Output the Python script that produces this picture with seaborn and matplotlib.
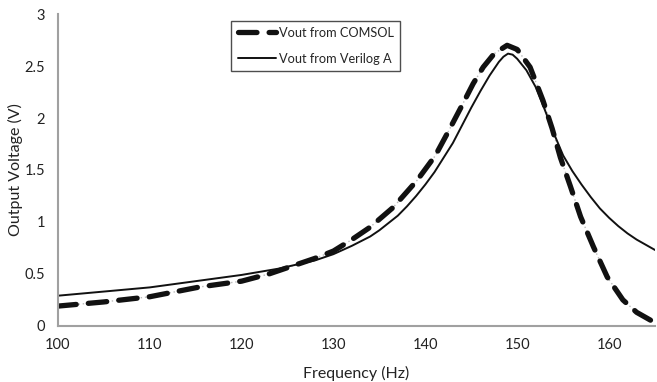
import numpy as np
import pandas as pd
import matplotlib
matplotlib.use("Agg")
import matplotlib.pyplot as plt
import seaborn as sns

# Data
freq_comsol = [100, 105, 110, 115.5, 120, 123, 126, 128, 130, 132, 134, 136.5, 139.1, 141.1, 142.5, 144.1,
               145.2, 146.3, 147.5, 148.9, 150, 151.4, 152.8, 153.8, 154.7, 155.8, 156.9, 158.3,
               159.8, 161.5, 163, 164.8]
vout_comsol = [0.19, 0.23, 0.28, 0.375, 0.43, 0.50, 0.59, 0.65, 0.72, 0.83, 0.95, 1.14, 1.40, 1.64, 1.87, 2.14,
               2.33, 2.49, 2.62, 2.70, 2.66, 2.49, 2.17, 1.90, 1.62, 1.34, 1.05, 0.76,
               0.47, 0.25, 0.13, 0.04]

freq_verilog = [100, 105, 110, 115, 120, 122, 124, 126, 128, 130, 132, 134, 135, 136, 137, 138, 139, 140,
                141, 142, 143, 144, 145, 146, 147, 148, 148.5, 149, 149.5, 150, 151, 152, 153,
                154, 155, 156, 157, 158, 159, 160, 161, 162, 163, 164, 165]
vout_verilog = [0.29, 0.33, 0.37, 0.43, 0.49, 0.52, 0.55, 0.59, 0.63, 0.69, 0.77, 0.86, 0.92, 0.99, 1.06, 1.15, 1.25, 1.36,
                1.48, 1.62, 1.76, 1.93, 2.10, 2.26, 2.41, 2.54, 2.59, 2.62, 2.61, 2.57, 2.46, 2.30, 2.08,
                1.85, 1.64, 1.49, 1.36, 1.24, 1.13, 1.04, 0.96, 0.89, 0.83, 0.78, 0.73]

labels = ["Vout from COMSOL", "Vout from Verilog A"]
x_ticks = [100, 110, 120, 130, 140, 150, 160]
y_ticks = [0, 0.5, 1, 1.5, 2, 2.5, 3]

df_c = pd.DataFrame({"Frequency": freq_comsol, "Vout": vout_comsol})
df_v = pd.DataFrame({"Frequency": freq_verilog, "Vout": vout_verilog})

sns.set_theme(style="white")
plt.rcParams["font.family"] = ["Lato", "DejaVu Sans"]

fig = plt.figure(figsize=(6.57, 3.82), dpi=100)
ax = fig.add_axes([0.088, 0.147, 0.909, 0.816])

# gray dotted underlay for the COMSOL curve
sns.lineplot(data=df_c, x="Frequency", y="Vout", ax=ax, color="#BBBBBB",
             linewidth=1.0, linestyle=(0, (1, 2)), legend=False)
sns.lineplot(data=df_c, x="Frequency", y="Vout", ax=ax, color="#111111",
             linewidth=3.8, legend=False)
ax.lines[-1].set_dashes((3.5, 2.3))
ax.lines[-1].set_dash_capstyle("round")
h1 = ax.lines[-1]
sns.lineplot(data=df_v, x="Frequency", y="Vout", ax=ax, color="#111111",
             linewidth=1.4, legend=False)
h2 = ax.lines[-1]

ax.set_xlim(100, 165)
ax.set_ylim(0, 3)
ax.set_xticks(x_ticks)
ax.set_xticklabels([str(t) for t in x_ticks])
ax.set_yticks(y_ticks)
ax.set_yticklabels([f"{t:g}" for t in y_ticks])
ax.tick_params(axis="both", length=0, labelsize=10.5, colors="#222222", pad=9)

ax.set_xlabel("Frequency (Hz)", fontsize=11.5, color="#222222", labelpad=10)
ax.set_ylabel("Output Voltage (V)", fontsize=11.5, color="#222222")
ax.yaxis.set_label_coords(-0.058, 0.5)

for s in ["top", "right"]:
    ax.spines[s].set_visible(False)
for s in ["left", "bottom"]:
    ax.spines[s].set_color("#A0A0A0")
    ax.spines[s].set_linewidth(1.5)

leg = ax.legend([h1, h2], labels, loc="upper left", bbox_to_anchor=(0.28, 1.0),
                fontsize=9.2, frameon=True, fancybox=False, handlelength=3.0,
                handletextpad=0.2, borderpad=0.5, labelspacing=1.1)
leg.get_frame().set_edgecolor("#222222")
leg.get_frame().set_linewidth(1.0)

fig.savefig("out.png", dpi=100)
